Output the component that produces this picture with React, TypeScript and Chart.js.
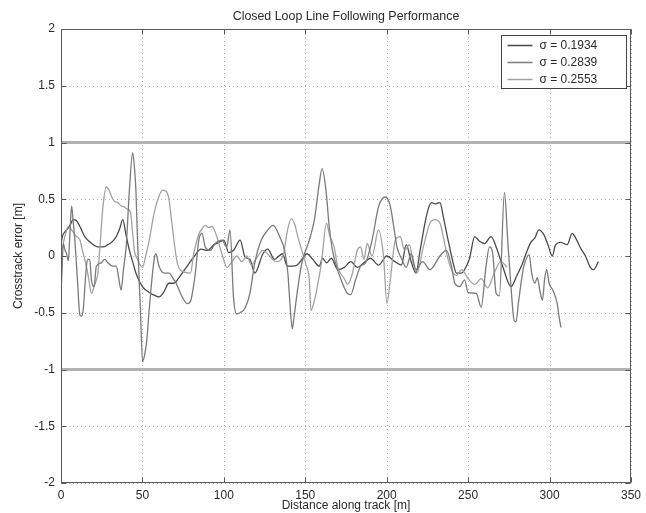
import { useEffect, useRef } from "react";
import { Chart, registerables } from "chart.js";

Chart.register(...registerables);

const TITLE = "Closed Loop Line Following Performance";
const X_LABEL = "Distance along track [m]";
const Y_LABEL = "Crosstrack error [m]";
const xTicks = [0, 50, 100, 150, 200, 250, 300, 350];
const yTicks = [-2, -1.5, -1, -0.5, 0, 0.5, 1, 1.5, 2];
const legendLabels = ["σ = 0.1934", "σ = 0.2839", "σ = 0.2553"];
const limitLevels = [1, -1];
const limitRange = [0, 350];

// σ = 0.1934 (dark)
const seriesDark: number[][] = [
  [0, 0.05], [0.4, 0.14], [3, 0.22], [5.5, 0.27], [7.5, 0.32], [9.5, 0.31], [12, 0.25], [14.6, 0.17], [18, 0.12],
  [22.7, 0.08], [26, 0.08], [28.8, 0.1], [31, 0.12], [33.9, 0.17], [36, 0.24], [37.9, 0.32], [40, 0.18], [42, 0.05],
  [44, -0.05], [46, -0.15], [50, -0.27], [55.2, -0.33], [58, -0.35], [60.2, -0.36], [63, -0.32], [66.3, -0.24],
  [69.4, -0.24], [72, -0.2], [75, -0.14], [78, -0.08], [82, 0.0], [86, 0.06], [90, 0.05], [94, 0.1], [97, 0.12],
  [100, 0.14], [103, 0.03], [106, 0.05], [110, 0.14], [113, -0.01], [116, -0.03], [119, -0.15], [124, 0.02],
  [127, 0.06], [131, -0.03], [136, 0.02], [139, -0.09], [142, -0.09], [145, -0.08], [148.5, -0.02], [151, 0.02],
  [154.6, -0.03], [158.6, -0.09], [160.6, -0.02], [163, -0.06], [166, -0.02], [170, -0.12], [174, -0.1],
  [178, -0.05], [182, -0.1], [186, -0.06], [190, -0.02], [195, -0.08], [200, 0.0], [205, -0.05], [209, -0.08],
  [212, 0.1], [215, -0.05], [218, -0.15], [220.5, 0.05], [223.5, 0.29], [225.6, 0.42], [227.6, 0.47], [230, 0.46],
  [232.7, 0.47], [234.7, 0.35], [237.7, 0.14], [240.8, -0.06], [242.8, -0.15], [245.9, -0.15], [248.9, -0.09],
  [250.9, -0.02], [254, 0.17], [257, 0.13], [260, 0.11], [264.1, 0.17], [267.2, 0.08], [271.2, -0.09],
  [276.3, -0.27], [280, -0.17], [283, -0.08], [285.5, 0.02], [288.5, 0.12], [291, 0.16], [293.4, 0.23],
  [296.4, 0.19], [299, 0.1], [301.7, 0.0], [303.7, 0.1], [306.7, 0.12], [310.8, 0.1], [313.9, 0.2], [316, 0.16],
  [319, 0.07], [322, 0.0], [325, -0.1], [327, -0.12], [330, -0.05],
];

// σ = 0.2839 (medium)
const seriesMedium: number[][] = [
  [0, -0.33], [0.7, -0.1], [1.4, 0.11], [2.5, 0.05], [3.4, 0.02], [4.5, -0.04], [5.5, 0.2], [6.5, 0.44], [7.5, 0.3],
  [8.5, 0.14], [10.1, -0.21], [11.6, -0.52], [12.6, -0.53], [13.6, -0.48], [15.6, -0.09], [16.6, -0.03],
  [17.6, -0.03], [18.7, -0.21], [20.3, -0.27], [21.7, -0.09], [24.7, -0.06], [26.8, -0.03], [28.8, -0.06],
  [31.8, -0.09], [33.9, -0.09], [35.5, -0.2], [36.9, -0.3], [38.5, -0.1], [40, 0.08], [42, 0.58], [44, 0.91],
  [45, 0.8], [46, 0.58], [47, 0.14], [48.7, -0.45], [50.1, -0.93], [51.5, -0.86], [52.7, -0.74], [54, -0.5],
  [55.2, -0.3], [57.2, -0.03], [58.2, 0.02], [60.2, -0.09], [63.3, -0.15], [66.3, -0.15], [69.4, -0.21],
  [70.4, -0.23], [72.5, -0.3], [74.4, -0.36], [77.5, -0.42], [79.5, -0.4], [81, -0.3], [82.5, -0.15], [84.6, 0.14],
  [86.6, 0.2], [88.6, 0.08], [91.7, 0.05], [94.7, 0.11], [98.8, 0.14], [101.8, 0.08], [103.8, 0.23],
  [105.9, -0.36], [107.9, -0.51], [110, -0.5], [113, -0.46], [116, -0.33], [119, -0.06], [123, 0.14], [127, 0.23],
  [130.2, 0.27], [134.3, 0.17], [137.3, 0.05], [139.3, -0.15], [140.5, -0.4], [142, -0.64], [143, -0.55],
  [144.4, -0.39], [147.5, -0.09], [149.5, 0.02], [152.5, 0.14], [155.6, 0.32], [158.6, 0.64], [160.3, 0.77],
  [162.7, 0.58], [164.7, 0.26], [166.7, 0.05], [169.8, -0.12], [172.8, -0.24], [175.9, -0.33], [177.9, -0.34],
  [180.9, -0.21], [184, -0.09], [187, -0.06], [191, 0.14], [195.1, 0.44], [199.2, 0.52], [202.2, 0.44],
  [204.3, 0.26], [206.3, 0.08], [209.3, -0.03], [212, -0.1], [215, 0.02], [218, -0.12], [222, -0.05],
  [226.6, -0.12], [232.7, 0.0], [236.7, 0.05], [239.8, -0.09], [241.8, -0.24], [244.8, -0.27], [247.9, -0.21],
  [249.9, -0.32], [255, -0.33], [258, -0.45], [261, -0.09], [263.1, 0.08], [265.1, 0.02], [267.2, -0.33],
  [269.2, -0.35], [272.3, 0.56], [274.3, 0.14], [276.3, -0.27], [278.3, -0.57], [279.4, -0.58], [281, -0.4],
  [284, -0.1], [286.5, 0.0], [287.5, 0.01], [289, -0.15], [291, -0.24], [292.5, -0.19], [294, -0.3],
  [295.6, -0.39], [297, -0.2], [298.2, -0.12], [299.7, -0.24], [302, -0.3], [304.7, -0.42], [306, -0.55],
  [307, -0.63],
];

// σ = 0.2553 (light)
const seriesLight: number[][] = [
  [0, 0.0], [2, 0.15], [4.5, 0.26], [7, 0.22], [9, 0.18], [11.6, 0.14], [13.5, 0.03], [15.6, -0.09], [17, -0.2],
  [18.7, -0.33], [20.3, -0.27], [21.7, -0.21], [22.7, -0.15], [24, 0.1], [25.8, 0.44], [27.8, 0.61], [29.5, 0.58],
  [31.8, 0.5], [33, 0.48], [34.9, 0.47], [37, 0.44], [39, 0.43], [41, 0.41], [42.6, 0.39], [44, 0.2], [45, 0.05],
  [47, -0.03], [49.1, -0.09], [50, -0.1], [52, 0.0], [54.2, 0.14], [57.2, 0.38], [60, 0.52], [62.3, 0.58],
  [64.5, 0.57], [66.3, 0.5], [68, 0.3], [71.4, -0.06], [75.4, -0.14], [79.5, -0.15], [81.5, 0.02], [84.6, 0.19],
  [86.6, 0.24], [88.6, 0.27], [90.5, 0.25], [92.7, 0.26], [95.7, 0.17], [98.8, 0.02], [102, -0.1], [105, -0.05],
  [108, 0.0], [111, -0.05], [114, 0.0], [117, -0.08], [120, -0.02], [124, 0.05], [128, 0.0], [132, -0.05],
  [136.3, 0.0], [139, 0.22], [141.4, 0.33], [143.5, 0.28], [145.4, 0.17], [148.5, 0.02], [150.5, -0.08],
  [152.5, -0.21], [153.5, -0.48], [155.6, -0.39], [157, -0.3], [160, -0.05], [163, 0.29], [165, 0.18],
  [167.7, 0.08], [170, -0.1], [174, -0.2], [176, -0.25], [179, -0.15], [181.9, 0.05], [184, 0.08], [186, -0.03],
  [188, 0.11], [191, 0.0], [195, 0.23], [198, 0.0], [200.2, -0.42], [202.2, -0.21], [205.3, 0.14], [208.3, 0.17],
  [211, 0.05], [214, 0.1], [216, -0.05], [218.5, -0.15], [222.5, 0.08], [226.6, 0.29], [229.6, 0.32],
  [232.7, 0.29], [234.7, 0.17], [237.7, -0.03], [240.8, -0.15], [242.8, -0.17], [246, -0.12], [250, -0.2],
  [254, -0.25], [258, -0.2], [262, -0.28], [266, -0.15], [270, -0.05], [274, -0.1],
];

const seriesColors = ["#4a4a4a", "#7a7a7a", "#a2a2a2"];
const FONT = "'Liberation Sans', Arial, Helvetica, sans-serif";
const TEXT = "#2a2a2a";

const toPoints = (arr: number[][]) => arr.map(([x, y]) => ({ x, y }));

const gridPlugin = {
  id: "matlabGrid",
  beforeDatasetsDraw(chart: any) {
    const { ctx, chartArea, scales } = chart;
    const { left, right, top, bottom } = chartArea;
    ctx.save();
    ctx.strokeStyle = "#b4b4b4";
    ctx.lineWidth = 1;
    ctx.setLineDash([1, 3]);
    xTicks.forEach((v) => {
      const px = Math.round(scales.x.getPixelForValue(v)) + 0.5;
      ctx.beginPath();
      ctx.moveTo(px, top);
      ctx.lineTo(px, bottom);
      ctx.stroke();
    });
    yTicks.forEach((v) => {
      const py = Math.round(scales.y.getPixelForValue(v)) + 0.5;
      ctx.beginPath();
      ctx.moveTo(left, py);
      ctx.lineTo(right, py);
      ctx.stroke();
    });
    ctx.restore();
  },
};

const framePlugin = {
  id: "matlabFrame",
  afterDatasetsDraw(chart: any) {
    const { ctx, chartArea, scales } = chart;
    const { left, right, top, bottom } = chartArea;
    const l = Math.round(left) + 0.5;
    const r = Math.round(right) - 0.5;
    const t = Math.round(top) + 0.5;
    const b = Math.round(bottom) - 0.5;
    ctx.save();
    ctx.setLineDash([]);
    ctx.strokeStyle = "#5a5a5a";
    ctx.lineWidth = 1;
    ctx.strokeRect(l, t, r - l, b - t);
    const tl = 5;
    ctx.beginPath();
    xTicks.forEach((v) => {
      const px = Math.round(scales.x.getPixelForValue(v)) + 0.5;
      ctx.moveTo(px, b);
      ctx.lineTo(px, b - tl);
      ctx.moveTo(px, t);
      ctx.lineTo(px, t + tl);
    });
    yTicks.forEach((v) => {
      const py = Math.round(scales.y.getPixelForValue(v)) + 0.5;
      ctx.moveTo(l, py);
      ctx.lineTo(l + tl, py);
      ctx.moveTo(r, py);
      ctx.lineTo(r - tl, py);
    });
    ctx.stroke();

    // title
    ctx.fillStyle = TEXT;
    ctx.font = `12.4px ${FONT}`;
    ctx.textAlign = "center";
    ctx.textBaseline = "middle";
    ctx.fillText(TITLE, (left + right) / 2, 17);

    // legend
    ctx.font = `12px ${FONT}`;
    const boxW = 125;
    const boxH = 53;
    const bx = Math.round(right - 5 - boxW) + 0.5;
    const by = Math.round(top + 6) + 0.5;
    ctx.fillStyle = "#ffffff";
    ctx.fillRect(bx, by, boxW, boxH);
    ctx.strokeStyle = "#444444";
    ctx.strokeRect(bx, by, boxW, boxH);
    legendLabels.forEach((lab, i) => {
      const yy = by + 10 + i * 17;
      ctx.strokeStyle = seriesColors[i];
      ctx.lineWidth = 1.5;
      ctx.beginPath();
      ctx.moveTo(bx + 6, yy);
      ctx.lineTo(bx + 31, yy);
      ctx.stroke();
      ctx.fillStyle = TEXT;
      ctx.textAlign = "left";
      ctx.textBaseline = "middle";
      ctx.fillText(lab, bx + 38, yy);
    });
    ctx.restore();
  },
};

export default function App() {
  const canvasRef = useRef<HTMLCanvasElement | null>(null);

  useEffect(() => {
    if (!canvasRef.current) return;
    const limitSets = limitLevels.map((lv) => ({
      label: `limit ${lv}`,
      data: limitRange.map((x) => ({ x, y: lv })),
      borderColor: "#b2b2b2",
      borderWidth: 3,
      pointRadius: 0,
      fill: false,
      tension: 0,
    }));
    const seriesSets = [seriesMedium, seriesLight, seriesDark].map((s) => {
      const idx = s === seriesDark ? 0 : s === seriesMedium ? 1 : 2;
      return {
        label: legendLabels[idx],
        data: toPoints(s),
        borderColor: seriesColors[idx],
        borderWidth: 1.3,
        pointRadius: 0,
        fill: false,
        cubicInterpolationMode: "monotone",
      };
    });

    const chart = new Chart(canvasRef.current, {
      type: "line",
      data: { datasets: [...limitSets, ...seriesSets] as any },
      plugins: [gridPlugin, framePlugin],
      options: {
        animation: false,
        responsive: false,
        devicePixelRatio: 1,
        layout: { padding: { top: 29, right: 10, bottom: 0, left: 0 } },
        plugins: { legend: { display: false }, tooltip: { enabled: false }, title: { display: false } },
        scales: {
          x: {
            type: "linear",
            min: 0,
            max: 350,
            grid: { display: false, drawTicks: false },
            border: { display: false },
            afterBuildTicks: (scale: any) => {
              scale.ticks = xTicks.map((v) => ({ value: v }));
            },
            afterFit: (scale: any) => {
              scale.height = 30;
            },
            ticks: {
              autoSkip: false,
              maxRotation: 0,
              padding: 5,
              color: TEXT,
              font: { family: FONT, size: 12 },
              callback: (v: any) => String(v),
            },
            title: {
              display: true,
              text: X_LABEL,
              color: TEXT,
              font: { family: FONT, size: 12 },
              padding: { top: 0, bottom: 0 },
            },
          },
          y: {
            type: "linear",
            min: -2,
            max: 2,
            grid: { display: false, drawTicks: false },
            border: { display: false },
            afterBuildTicks: (scale: any) => {
              scale.ticks = yTicks.map((v) => ({ value: v }));
            },
            afterFit: (scale: any) => {
              scale.width = 61;
            },
            ticks: {
              autoSkip: false,
              padding: 6,
              color: TEXT,
              font: { family: FONT, size: 12 },
              callback: (v: any) => String(v),
            },
            title: {
              display: true,
              text: Y_LABEL,
              color: TEXT,
              font: { family: FONT, size: 12 },
              padding: { top: 11, bottom: 0 },
            },
          },
        },
      } as any,
    });
    return () => chart.destroy();
  }, []);

  return (
    <div style={{ position: "absolute", left: 0, top: 0, width: 646, height: 513, background: "#fff" }}>
      <canvas ref={canvasRef} width={646} height={513} style={{ display: "block", width: 646, height: 513 }} />
    </div>
  );
}
